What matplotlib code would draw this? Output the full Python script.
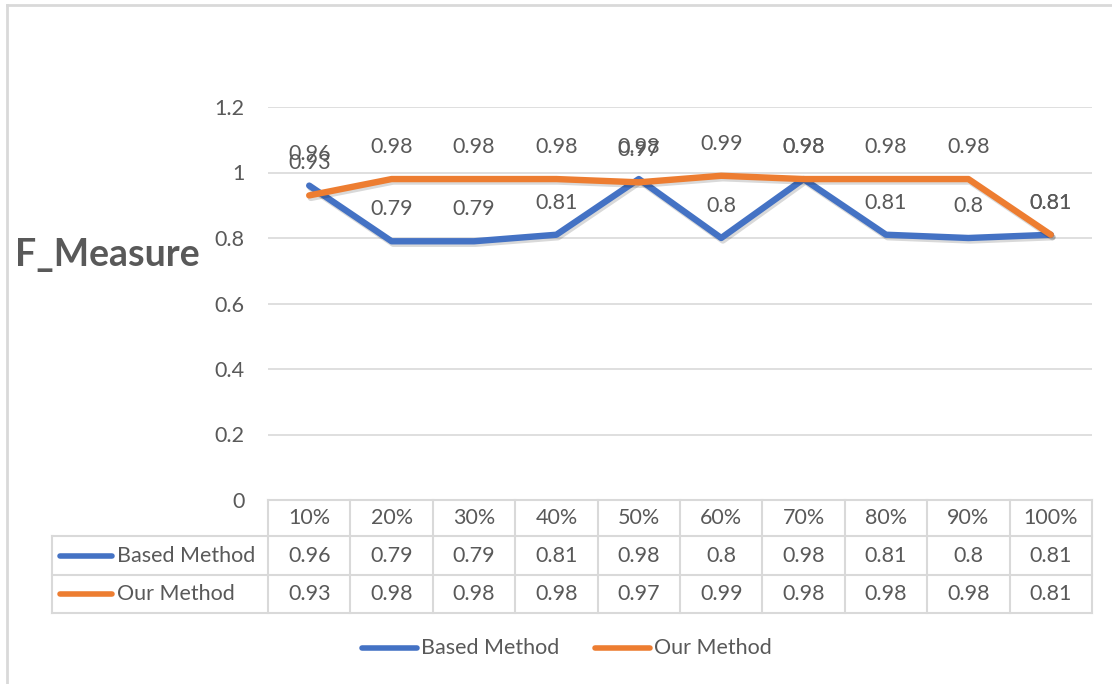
import numpy as np
import matplotlib.pyplot as plt
import matplotlib.patheffects as pe
from matplotlib.transforms import blended_transform_factory

# Valores de F_Measure por porcentagem da base
categorias = ["10%", "20%", "30%", "40%", "50%", "60%", "70%", "80%", "90%", "100%"]
based_method = [0.96, 0.79, 0.79, 0.81, 0.98, 0.8, 0.98, 0.81, 0.8, 0.81]
our_method = [0.93, 0.98, 0.98, 0.98, 0.97, 0.99, 0.98, 0.98, 0.98, 0.81]
series_names = ["Based Method", "Our Method"]
series_values = [based_method, our_method]
series_colors = ["#4472C4", "#ED7D31"]
y_ticks = [0, 0.2, 0.4, 0.6, 0.8, 1, 1.2]

W, H = 1112, 684
cinza = "#595959"
linha = "#d9d9d9"
fs = 15.5

plt.rcParams["font.family"] = ["Lato", "DejaVu Sans"]

fig = plt.figure(figsize=(W / 100, H / 100), dpi=100)

def fx(px):
    return px / W

def fy(py):
    return 1 - py / H

left, right, top, bottom = 268, 1092, 107, 500
ax = fig.add_axes([fx(left), fy(bottom), fx(right - left), fy(top) - fy(bottom)])
ax.set_xlim(-0.5, len(categorias) - 0.5)
ax.set_ylim(0, 1.2)
for s in ax.spines.values():
    s.set_visible(False)
ax.set_xticks([])
ax.set_yticks(y_ticks)
ax.set_yticklabels([f"{v:g}" for v in y_ticks], color=cinza, fontsize=fs)
ax.tick_params(axis="y", length=0, pad=17)
ax.yaxis.grid(True, color=linha, linewidth=1.2)
ax.set_axisbelow(True)

x = np.arange(len(categorias))
sombra = [pe.SimpleLineShadow(offset=(1.2, -1.8), shadow_color="k", alpha=0.15),
          pe.Normal()]
for vals, cor in zip(series_values, series_colors):
    ax.plot(x, vals, color=cor, linewidth=4.6, solid_capstyle="round",
            path_effects=sombra, zorder=3, clip_on=False)
    for xi, v in zip(x, vals):
        ax.annotate(f"{v:g}", (xi, v), xytext=(0, 23), textcoords="offset points",
                    ha="center", va="center", color=cinza, fontsize=fs, zorder=4)

# Rótulo do eixo
fig.text(fx(15), fy(255), "F_Measure", fontsize=27, fontweight="bold",
         color=cinza, ha="left", va="center")

# Tabela de dados abaixo do gráfico
trans = blended_transform_factory(ax.transData, fig.transFigure)
rows = [500, 536, 575, 613]
tab_left = 52
for i, r in enumerate(rows):
    x0 = left if i == 0 else tab_left
    fig.add_artist(plt.Line2D([fx(x0), fx(right)], [fy(r), fy(r)],
                              color=linha, linewidth=1.5))
for xi in np.arange(len(categorias) + 1) - 0.5:
    fig.add_artist(plt.Line2D([xi, xi], [fy(rows[0]), fy(rows[-1])],
                              transform=trans, color=linha, linewidth=1.5))
fig.add_artist(plt.Line2D([fx(tab_left), fx(tab_left)], [fy(rows[1]), fy(rows[-1])],
                          color=linha, linewidth=1.5))

for xi, c in zip(x, categorias):
    fig.text(xi, fy((rows[0] + rows[1]) / 2), c, transform=trans,
             ha="center", va="center", color=cinza, fontsize=fs)
for k, (nome, vals, cor) in enumerate(zip(series_names, series_values, series_colors)):
    yc = fy((rows[k + 1] + rows[k + 2]) / 2)
    fig.add_artist(plt.Line2D([fx(60), fx(112)], [yc, yc], color=cor,
                              linewidth=4, solid_capstyle="round"))
    fig.text(fx(117), yc, nome, ha="left", va="center", color=cinza, fontsize=fs)
    for xi, v in zip(x, vals):
        fig.text(xi, yc, f"{v:g}", transform=trans, ha="center", va="center",
                 color=cinza, fontsize=fs)

# Legenda inferior
leg_y = fy(648)
for nome, cor, x0 in zip(series_names, series_colors, [362, 595]):
    fig.add_artist(plt.Line2D([fx(x0), fx(x0 + 55)], [leg_y, leg_y], color=cor,
                              linewidth=4, solid_capstyle="round"))
    fig.text(fx(x0 + 59), leg_y, nome, ha="left", va="center", color=cinza, fontsize=fs)

# Moldura do gráfico
fig.add_artist(plt.Line2D([fx(7), 1], [fy(5), fy(5)], color=linha, linewidth=2))
fig.add_artist(plt.Line2D([fx(7), fx(7)], [fy(5), 0], color=linha, linewidth=2))

fig.savefig("out.png", dpi=100, facecolor="white")
